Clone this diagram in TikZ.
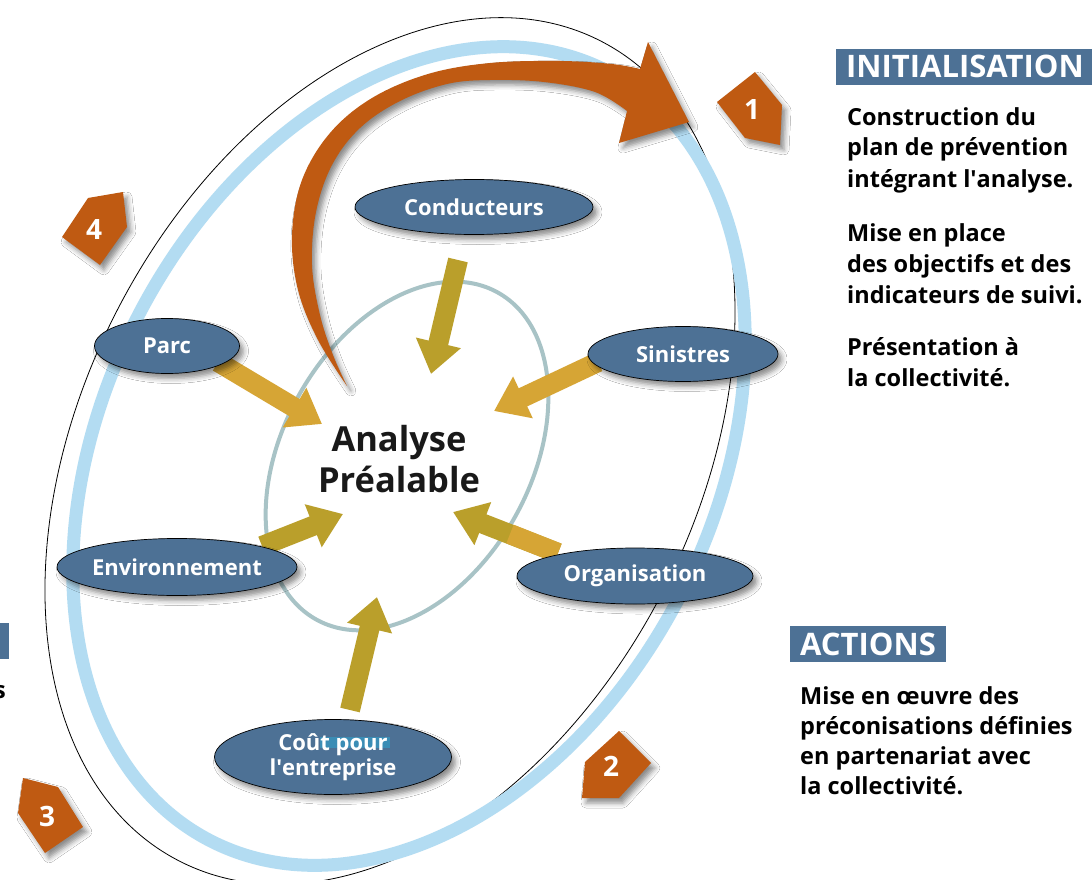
\documentclass[tikz,border=0pt]{standalone}
\usepackage{fontspec}
\setmainfont{Open Sans}
\usetikzlibrary{shapes.geometric, arrows.meta, shadows.blur}
\definecolor{steel}{HTML}{4D7195}
\definecolor{orng}{HTML}{BF5A12}
\definecolor{gold}{HTML}{D6A535}
\definecolor{olive}{HTML}{BA9F2B}
\definecolor{ringblue}{HTML}{B3DCF2}
\definecolor{innergrey}{HTML}{A8C3C6}
\definecolor{hlblue}{HTML}{3B8DB5}
\tikzset{
  softshadow/.style={blur shadow={shadow xshift=4pt, shadow yshift=-5pt, shadow blur radius=5pt, shadow opacity=45}},
  lbl/.style={ellipse, draw=black, line width=0.7pt, fill=steel, text=white, inner sep=0pt,
    font=\fontsize{22}{25}\selectfont\bfseries, softshadow},
  garrow/.style={line width=20pt, -{Triangle[length=32pt,width=44pt]}, draw=#1},
  gbase/.style={line width=20pt, draw=#1},
  pent/.style={fill=orng, softshadow},
  num/.style={text=white, font=\fontsize{28}{28}\selectfont\bfseries, inner sep=0pt},
  body/.style={font=\fontsize{23.5}{31}\selectfont\bfseries, inner sep=0pt, anchor=base west},
  banner/.style={fill=steel, text=white, font=\fontsize{31}{36}\selectfont\bfseries,
    text height=22pt, text depth=0pt, inner ysep=7pt, inner xsep=10pt},
  ring/.style={draw=ringblue, line width=13pt},
  innerring/.style={draw=innergrey, line width=4pt},
  outerline/.style={draw=black, line width=0.8pt}
}
\begin{document}
\begin{tikzpicture}[x=1pt,y=-1pt]
\useasboundingbox (0,0) rectangle (1092,880);
\clip (0,0) rectangle (1092,880);
\fill[white] (0,0) rectangle (1092,880);

% ellipses
\coordinate (oc) at (390,451);
\path[outerline, rotate around={62.75:(oc)}] (oc) ellipse [x radius=461, y radius=307];
\coordinate (bc) at (409,456);
\path[ring, rotate around={62.6:(bc)}] (bc) ellipse [x radius=433, y radius=305];
\coordinate (ic) at (407,456);
\path[innerring, rotate around={61:(ic)}] (ic) ellipse [x radius=187, y radius=124];

% big orange curved arrow
\fill[orng, softshadow]
  plot[smooth, tension=0.6] coordinates {(347,386) (318,340) (298,290) (292,235) (302,180) (330,133) (372,98) (428,74) (490,63) (560,61) (612,64) (640,69)}
  -- (648,42) -- (689,122) -- (619,143)
  -- plot[smooth, tension=0.6] coordinates {(627,111) (595,92) (544,82) (490,80) (447,84) (400,101) (360,128) (332,165) (316,212) (312,265) (320,315) (333,355) (347,386)}
  -- cycle;

% gold arrows
\coordinate (a1s) at (458,260); \coordinate (a1t) at (431,374);
\coordinate (a2s) at (218,362); \coordinate (a2t) at (322,424);
\coordinate (a3s) at (598,362); \coordinate (a3t) at (494,411);
\coordinate (a4s) at (558,553); \coordinate (a4t) at (453,512);
\coordinate (a4m) at (510,534);
\coordinate (a5s) at (262,546); \coordinate (a5t) at (343,514);
\coordinate (a6s) at (350,710); \coordinate (a6t) at (377,597);
\draw[garrow=olive] (a1s) -- (a1t);
\draw[garrow=gold] (a2s) -- (a2t);
\draw[garrow=gold] (a3s) -- (a3t);
\draw[garrow=olive] (a4s) -- (a4t);
\draw[gbase=gold] (a4s) -- (a4m);
\draw[garrow=olive] (a5s) -- (a5t);
\draw[garrow=olive] (a6s) -- (a6t);

% ellipse nodes
\node[lbl, minimum width=238pt, minimum height=55pt] (cond) at (474,207) {Conducteurs};
\node[lbl, minimum width=145pt, minimum height=55pt] (parc) at (167,346) {Parc};
\node[lbl, minimum width=190pt, minimum height=55pt] (sin) at (683,354) {Sinistres};
\node[lbl, minimum width=240pt, minimum height=57pt] (env) at (177,567) {Environnement};
\node[lbl, minimum width=236pt, minimum height=56pt] (org) at (635,576) {Organisation};
\node[lbl, minimum width=237pt, minimum height=75pt, align=center,
  path picture={\fill[hlblue] ([xshift=-13pt,yshift=20pt]path picture bounding box.center) rectangle ([xshift=57pt,yshift=9pt]path picture bounding box.center);}]
  (cout) at (333,757) {Coût pour\\l\textquotesingle entreprise};

% centre text
\node[align=center, font=\fontsize{34.5}{41}\selectfont\bfseries, text=black!90, inner sep=0pt] (ap) at (399,459) {Analyse\\Préalable};

% pentagons
\fill[pent] (717,102) -- (755,72) -- (782,105) -- (780,145) -- (745,138) -- cycle;
\fill[pent] (62,237) -- (88,198) -- (123,192) -- (127,227) -- (100,265) -- cycle;
\fill[pent] (585,762) -- (619,731) -- (651,763) -- (619,798) -- (582,798) -- cycle;
\fill[pent] (23,778) -- (58,787) -- (83,827) -- (45,853) -- (18,813) -- cycle;
\node[num] (n1) at (752,110) {1};
\node[num] (n4) at (94,230) {4};
\node[num] (n2) at (611,766) {2};
\node[num] (n3) at (47,816) {3};

% right texts
\node[banner, anchor=base west] (init) at (836,78) {INITIALISATION};
\foreach \y/\t [count=\i] in {125/Construction du, 156/plan de prévention, 187/intégrant l\textquotesingle analyse., 241/Mise en place, 272/des objectifs et des, 303/indicateurs de suivi., 355/Présentation à, 386/la collectivité.}
  \node[body] (ti\i) at (847,\y) {\t};

\node[banner, anchor=base west] (act) at (790,655) {ACTIONS};
\foreach \y/\t [count=\i] in {704/Mise en œuvre des, 734/préconisations définies, 764/en partenariat avec, 794/la collectivité.}
  \node[body] (ta\i) at (800,\y) {\t};

% left fragments (cut off at the edge, as in the reference)
\node[banner, anchor=base east] (lft) at (9,652) {N};
\node[body, anchor=base east] (ls) at (6,698) {s};
\end{tikzpicture}
\end{document}
